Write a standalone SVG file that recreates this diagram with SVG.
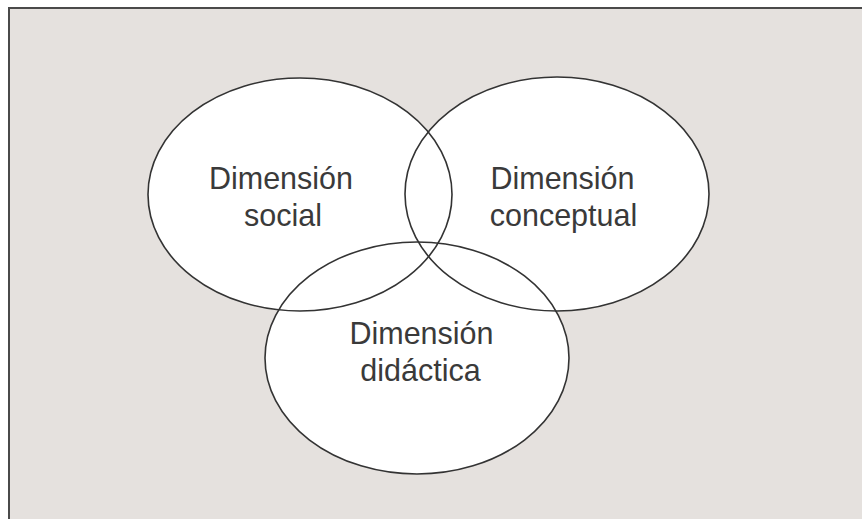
<svg xmlns="http://www.w3.org/2000/svg" width="862" height="519" viewBox="0 0 862 519">
<style>
.frame{fill:#e5e1de;stroke:#4a4a4a;stroke-width:2}
.fill{fill:#ffffff;stroke:none}
.edge{fill:none;stroke:#333333;stroke-width:1.6}
.lbl{font-family:"Liberation Sans",Arial,sans-serif;font-size:30.5px;fill:#3a3a3a;text-anchor:middle}
</style>
<rect width="862" height="519" fill="#ffffff"/>
<rect class="frame" x="9" y="8" width="880" height="540"/>
<g id="fills">
<ellipse class="fill" cx="300" cy="194.5" rx="152" ry="116.5"/>
<ellipse class="fill" cx="557" cy="194" rx="152" ry="117"/>
<ellipse class="fill" cx="417" cy="358" rx="152" ry="116"/>
</g>
<g id="node-social">
<ellipse class="edge" cx="300" cy="194.5" rx="152" ry="116.5"/>
<text class="lbl" x="281" y="189.3">Dimensión</text>
<text class="lbl" x="283" y="225.7">social</text>
</g>
<g id="node-conceptual">
<ellipse class="edge" cx="557" cy="194" rx="152" ry="117"/>
<text class="lbl" x="562.5" y="189.3">Dimensión</text>
<text class="lbl" x="563.5" y="225.7">conceptual</text>
</g>
<g id="node-didactica">
<ellipse class="edge" cx="417" cy="358" rx="152" ry="116"/>
<text class="lbl" x="421.5" y="344.3">Dimensión</text>
<text class="lbl" x="420.5" y="381">didáctica</text>
</g>
<g id="connectors"></g>
</svg>
